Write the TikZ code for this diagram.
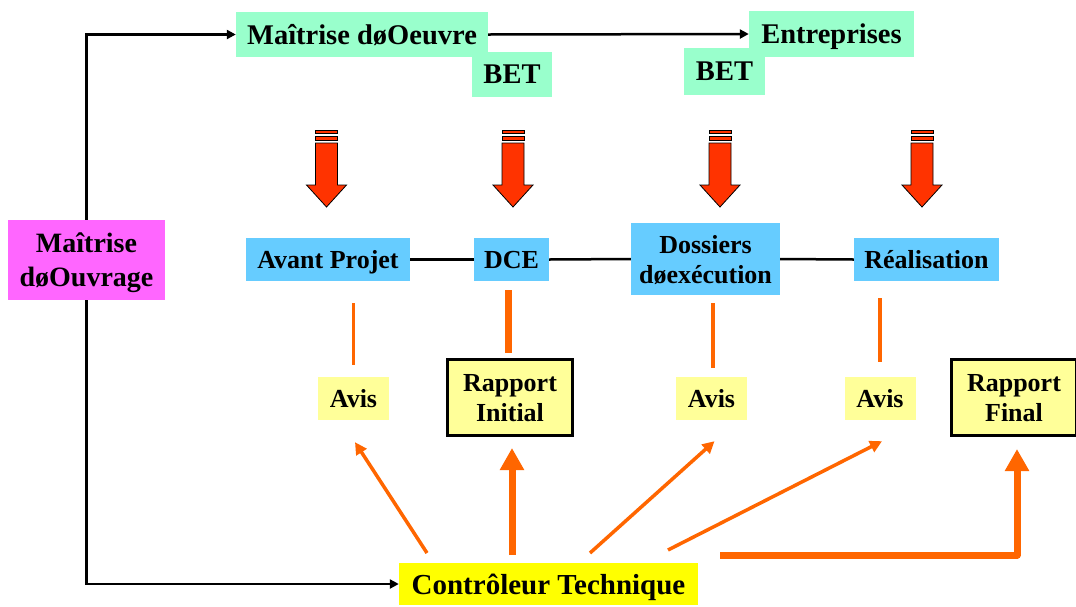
\documentclass[tikz,border=0pt]{standalone}
\usepackage{fontspec}
\setmainfont{Liberation Serif}
\usetikzlibrary{arrows.meta,calc}
\definecolor{mint}{HTML}{99FFCC}
\definecolor{pinkbox}{HTML}{FF66FF}
\definecolor{skyblue}{HTML}{66CCFF}
\definecolor{ctyellow}{HTML}{FFFF00}
\definecolor{paleyellow}{HTML}{FFFF99}
\definecolor{flow}{HTML}{FF6600}
\definecolor{redfill}{HTML}{FF3300}
\tikzset{
  box/.style={inner sep=0pt, align=center, text depth=0pt, font=\fontsize{26}{30}\selectfont\bfseries},
  bigbox/.style={box, font=\fontsize{28.5}{33}\selectfont\bfseries},
  greenbox/.style={bigbox, fill=mint},
  bluebox/.style={box, fill=skyblue},
  avisbox/.style={box, fill=paleyellow, minimum width=71pt, minimum height=43pt},
  reportbox/.style={box, fill=paleyellow, draw=black, line width=3pt,
                    minimum width=125pt, minimum height=76pt},
  blackline/.style={line width=2.5pt, draw=black},
  blackarrow/.style={blackline, -{Triangle[length=9pt,width=9pt]}},
  thinflow/.style={line width=3.5pt, draw=flow},
  thickflow/.style={line width=7pt, draw=flow},
  thinflowarrow/.style={thinflow, -{Triangle[length=12pt,width=12pt]}},
  thickflowarrow/.style={thickflow, line join=round, -{Triangle[length=22pt,width=23pt]}},
  downarrow/.pic={
    \filldraw[fill=redfill, draw=black, line width=0.8pt]
      (-11,143) -- (11,143) -- (11,185) -- (20,185) -- (0,207)
      -- (-20,185) -- (-11,185) -- cycle;
    \filldraw[fill=redfill, draw=black, line width=0.8pt] (-11,130) rectangle (11,133.5);
    \filldraw[fill=redfill, draw=black, line width=0.8pt] (-11,136.5) rectangle (11,140.5);
  }
}
\begin{document}
\begin{tikzpicture}[x=1pt,y=-1pt]
\useasboundingbox (0,0) rectangle (1076,606);

% top row: design and construction parties
\node[greenbox, minimum width=252pt, minimum height=45pt] (mo) at (362,34.5) {Maîtrise døOeuvre};
\node[greenbox, minimum width=80pt, minimum height=45pt] (bet1) at (512,74.5) {BET};
\node[greenbox, minimum width=165pt, minimum height=46pt] (ent) at (831.5,34) {Entreprises};
\node[greenbox, minimum width=81pt, minimum height=47pt] (bet2) at (724.5,71.5) {BET};

% client
\node[bigbox, font=\fontsize{28}{34}\selectfont\bfseries, fill=pinkbox,
      minimum width=157pt, minimum height=80pt] (mouv) at (86.5,260) {Maîtrise\\døOuvrage};

% project phases
\node[bluebox, minimum width=164pt, minimum height=43pt] (ap) at (328,259.5) {Avant Projet};
\node[bluebox, minimum width=75pt, minimum height=43pt] (dce) at (511.5,259.5) {DCE};
\node[bluebox, minimum width=149pt, minimum height=72pt] (dex) at (705.5,259) {Dossiers\\døexécution};
\node[bluebox, minimum width=145pt, minimum height=43pt] (real) at (926.5,259.5) {Réalisation};

% inspector outputs
\node[avisbox] (avis1) at (353.5,398.5) {Avis};
\node[reportbox] (ri) at (510,397.5) {Rapport\\Initial};
\node[avisbox] (avis2) at (711.5,398.5) {Avis};
\node[avisbox] (avis3) at (880,398.5) {Avis};
\node[reportbox] (rf) at (1014,397.5) {Rapport\\Final};

% inspector
\node[bigbox, font=\fontsize{29}{33}\selectfont\bfseries, fill=ctyellow,
      minimum width=299pt, minimum height=42pt] (ct) at (548.5,584) {Contrôleur Technique};

% big red arrows above the phases
\pic at (326.5,0) {downarrow};
\pic at (513,0) {downarrow};
\pic at (720,0) {downarrow};
\pic at (922,0) {downarrow};

% black connectors
\draw[blackarrow] (mo.east) -- (ent.west);
\draw[blackarrow] (mouv.north) |- (mo.west);
\draw[blackarrow] (mouv.south) |- (ct.west);
\draw[blackline] (ap.east) -- (dce.west);
\draw[blackline] (dce.east) -- (dex.west);
\draw[blackline] (dex.east) -- (real.west);

% orange links between phases and opinions
\draw[thinflow, shorten <=22pt, shorten >=12pt] (avis1.north |- ap.south) -- (avis1.north);
\draw[thickflow, shorten <=9pt, shorten >=5pt] ([xshift=-2pt]ri.north |- dce.south) -- ([xshift=-2pt]ri.north);
\draw[thinflow, shorten <=8pt, shorten >=9pt] ([xshift=1.5pt]avis2.north |- dex.south) -- ([xshift=1.5pt]avis2.north);
\draw[thinflow, shorten <=17pt, shorten >=15pt] (avis3.north |- real.south) -- (avis3.north);

% orange arrows from the inspector
\coordinate (s1) at (427,553);
\coordinate (s2) at (512,555);
\coordinate (s3) at (590,553);
\coordinate (s4) at (668,550);
\coordinate (s5) at (720,555);
\draw[thinflowarrow] (s1) -- ($(avis1.south)+(1.5,22)$);
\draw[thickflowarrow] (s2) -- ($(ri.south)+(2,11)$);
\draw[thinflowarrow] (s3) -- ($(avis2.south)+(3,21)$);
\draw[thinflowarrow] (s4) -- ($(avis3.south)+(2,21)$);
\draw[thickflowarrow] (s5) -| ($(rf.south)+(3,12)$);
\end{tikzpicture}
\end{document}
